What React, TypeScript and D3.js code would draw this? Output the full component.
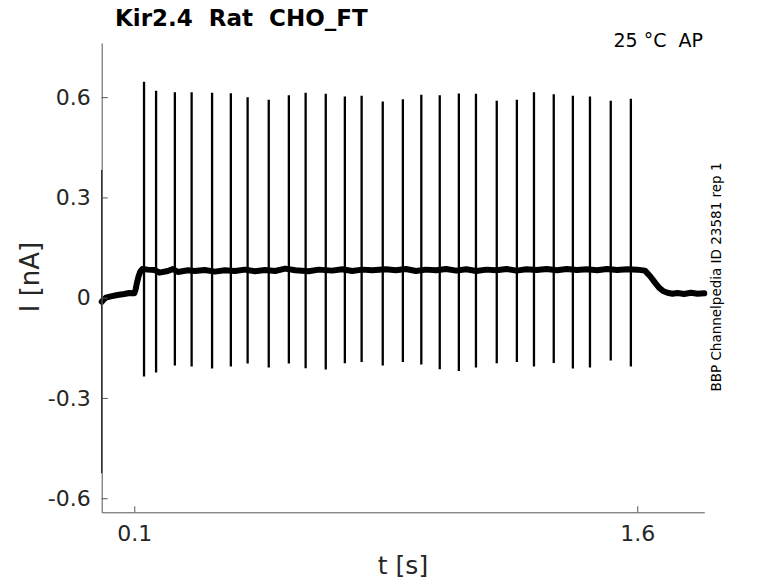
import { useEffect, useRef } from 'react'
import * as d3 from 'd3'

// stimulus spikes (time in s, peak and trough in nA)
const spikeTimes = [
  0.129, 0.165, 0.221, 0.271, 0.332, 0.388, 0.438, 0.501, 0.561, 0.611, 0.671, 0.728, 0.778, 0.841,
  0.901, 0.956, 1.011, 1.068, 1.119, 1.181, 1.241, 1.292, 1.351, 1.408, 1.459, 1.521, 1.581,
]
const spikePeaks = [
  0.646, 0.619, 0.615, 0.615, 0.613, 0.612, 0.6, 0.592, 0.606, 0.613, 0.61, 0.602, 0.604, 0.587,
  0.594, 0.607, 0.606, 0.611, 0.61, 0.589, 0.592, 0.615, 0.609, 0.604, 0.602, 0.589, 0.595,
]
const spikeTroughs = [
  -0.236, -0.224, -0.203, -0.206, -0.212, -0.206, -0.197, -0.209, -0.197, -0.211, -0.215, -0.196, -0.192, -0.203,
  -0.192, -0.2, -0.214, -0.219, -0.209, -0.196, -0.192, -0.206, -0.195, -0.212, -0.209, -0.188, -0.206,
]

// holding current between spikes
const baseTimes = [
  0.003, 0.008, 0.015, 0.03, 0.05, 0.07, 0.085, 0.1, 0.104, 0.108, 0.113, 0.118, 0.124,
  0.14, 0.16, 0.175, 0.2, 0.215, 0.23, 0.26, 0.28, 0.31, 0.34, 0.37, 0.4, 0.43, 0.46, 0.49,
  0.52, 0.55, 0.58, 0.62, 0.65, 0.69, 0.72, 0.75, 0.78, 0.81, 0.85, 0.88, 0.91, 0.94, 0.97,
  1.0, 1.03, 1.06, 1.09, 1.12, 1.15, 1.18, 1.21, 1.24, 1.27, 1.3, 1.33, 1.36, 1.39, 1.42,
  1.45, 1.48, 1.51, 1.54, 1.57, 1.6, 1.623, 1.638, 1.653, 1.665, 1.677, 1.69, 1.705, 1.72,
  1.74, 1.76, 1.78, 1.8,
]
const baseValues = [
  -0.012, -0.006, 0.0, 0.004, 0.008, 0.011, 0.014, 0.013, 0.025, 0.045, 0.065, 0.078, 0.086,
  0.084, 0.083, 0.075, 0.08, 0.086, 0.077, 0.082, 0.08, 0.083, 0.078, 0.082, 0.08, 0.084, 0.079, 0.083,
  0.08, 0.087, 0.082, 0.079, 0.084, 0.081, 0.085, 0.08, 0.084, 0.082, 0.085, 0.082, 0.086, 0.08, 0.084,
  0.082, 0.086, 0.081, 0.085, 0.08, 0.084, 0.082, 0.086, 0.081, 0.085, 0.083, 0.086, 0.082, 0.086, 0.083,
  0.085, 0.082, 0.086, 0.083, 0.085, 0.084, 0.081, 0.065, 0.045, 0.03, 0.02, 0.015, 0.012, 0.014,
  0.011, 0.015, 0.012, 0.013,
]

// onset transient
const transientT = 0.0028
const transientRange = [0.382, -0.525]

const xTicks = [0.1, 1.6]
const yTicks = [-0.6, -0.3, 0, 0.3, 0.6]

const W = 778
const H = 583
const FONT = 'DejaVu Sans, sans-serif'

export default function App() {
  const svgRef = useRef<SVGSVGElement>(null)

  useEffect(() => {
    const svg = d3.select(svgRef.current)
    svg.selectAll('*').remove()

    const x = d3.scaleLinear().domain([0.0028, 1.8]).range([101.7, 704.3])
    const y = d3.scaleLinear().domain([-0.642, 0.762]).range([512.3, 43])

    const line = d3.line<[number, number]>()
      .x((d) => x(d[0]))
      .y((d) => y(d[1]))

    // holding trace (drawn thick to carry the recording noise band)
    const base = baseTimes.map((t, i) => [t, baseValues[i]] as [number, number])
    svg.append('path')
      .datum(base)
      .attr('fill', 'none')
      .attr('stroke', '#000')
      .attr('stroke-width', 6)
      .attr('stroke-linejoin', 'round')
      .attr('stroke-linecap', 'round')
      .attr('d', line)

    // onset transient
    svg.append('path')
      .datum(transientRange.map((v) => [transientT, v] as [number, number]))
      .attr('fill', 'none')
      .attr('stroke', '#222')
      .attr('stroke-width', 1.4)
      .attr('d', line)

    // spikes
    spikeTimes.forEach((t, i) => {
      svg.append('path')
        .datum([[t, spikePeaks[i]], [t, spikeTroughs[i]]] as [number, number][])
        .attr('fill', 'none')
        .attr('stroke', '#000')
        .attr('stroke-width', 2.3)
        .attr('d', line)
    })

    // axes
    svg.append('g')
      .attr('transform', `translate(0,${y.range()[0]})`)
      .call(d3.axisBottom(x).tickValues(xTicks).tickSize(-6).tickSizeOuter(0).tickPadding(13).tickFormat((d) => String(d)))
      .call((g) => g.select('.domain').attr('stroke', '#555'))
      .call((g) => g.selectAll('.tick line').attr('stroke', '#555'))
      .call((g) => g.selectAll('text').attr('fill', '#262626').attr('font-size', 22).attr('font-family', FONT))

    svg.append('g')
      .attr('transform', `translate(${x.range()[0]},0)`)
      .call(d3.axisLeft(y).tickValues(yTicks).tickSize(-6).tickSizeOuter(0).tickPadding(11).tickFormat((d) => String(d)))
      .call((g) => g.select('.domain').attr('stroke', '#555'))
      .call((g) => g.selectAll('.tick line').attr('stroke', '#555'))
      .call((g) => g.selectAll('text').attr('fill', '#262626').attr('font-size', 22).attr('font-family', FONT))

    // labels
    svg.append('text')
      .attr('x', 403).attr('y', 574)
      .attr('text-anchor', 'middle')
      .attr('font-family', FONT).attr('font-size', 25).attr('fill', '#262626')
      .text('t [s]')

    svg.append('text')
      .attr('transform', 'translate(39,277) rotate(-90)')
      .attr('text-anchor', 'middle')
      .attr('font-family', FONT).attr('font-size', 26).attr('fill', '#262626')
      .text('I [nA]')

    svg.append('text')
      .attr('x', 115).attr('y', 26)
      .attr('font-family', FONT).attr('font-size', 23).attr('font-weight', 'bold').attr('fill', '#000')
      .style('white-space', 'pre')
      .text('Kir2.4  Rat  CHO_FT')

    svg.append('text')
      .attr('x', 703).attr('y', 47)
      .attr('text-anchor', 'end')
      .attr('font-family', FONT).attr('font-size', 19).attr('fill', '#000')
      .style('white-space', 'pre')
      .text('25 °C  AP')

    svg.append('text')
      .attr('transform', 'translate(721,277) rotate(-90)')
      .attr('text-anchor', 'middle')
      .attr('font-family', FONT).attr('font-size', 13.5).attr('fill', '#000')
      .text('BBP Channelpedia ID 23581 rep 1')
  }, [])

  return (
    <svg
      ref={svgRef}
      width={W}
      height={H}
      style={{ position: 'absolute', left: 0, top: 0, background: '#fff' }}
    />
  )
}
